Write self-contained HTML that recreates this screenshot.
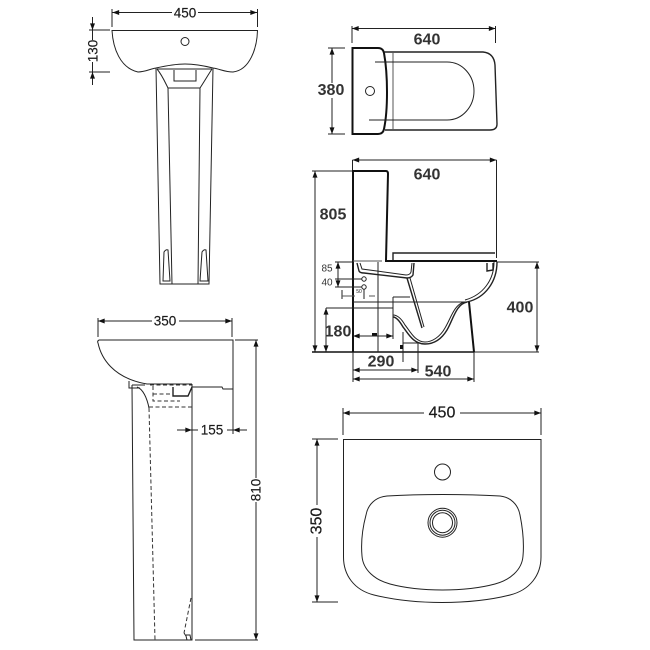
<!DOCTYPE html>
<html><head><meta charset="utf-8"><style>
html,body{margin:0;padding:0;background:#fff;width:650px;height:650px;overflow:hidden}
svg{display:block;filter:blur(.35px)}
text{font-family:"Liberation Sans",sans-serif;fill:#1a1a1a;text-anchor:middle;dominant-baseline:central}
.t{font-size:13.5px;stroke:#1a1a1a;stroke-width:.15px}
.l{font-size:16px;stroke:#1a1a1a;stroke-width:.2px}
.b{font-size:16px;font-weight:bold;fill:#333}
.s{font-size:10px;fill:#333}
path,line,circle{fill:none;stroke:#222;stroke-width:1}
.k{stroke:#111;stroke-width:2}
.m{stroke:#222;stroke-width:1.4}
.g{stroke:#555;stroke-width:1}
.d{stroke-dasharray:4 2.5;stroke:#333}
</style></head><body>
<svg width="650" height="650" viewBox="0 0 650 650" xmlns="http://www.w3.org/2000/svg">
<defs>
<marker id="e" viewBox="0 0 8 6" refX="8" refY="3" markerWidth="7" markerHeight="5" markerUnits="userSpaceOnUse" orient="auto"><path d="M0 0L8 3L0 6z" style="fill:#111;stroke:none"/></marker>
<marker id="st" viewBox="0 0 8 6" refX="0" refY="3" markerWidth="7" markerHeight="5" markerUnits="userSpaceOnUse" orient="auto"><path d="M8 0L0 3L8 6z" style="fill:#111;stroke:none"/></marker>
</defs>

<!-- Front pedestal basin -->
<path d="M112 9V27M257.5 9V27"/>
<path d="M112.5 12.5H172M198 12.5H257" marker-start="url(#st)" marker-end="url(#e)"/>
<text class="t" x="185" y="13">450</text>
<path d="M112 30.5H257.5C257 48 250 70 233 72C225 72 220 69 213 68C205 66 195 64 185 64C175 64 165 66 156 68C150 69 145 72 138 72C120 68 113 48 112 30.5Z"/>
<circle cx="185" cy="41.5" r="4"/>
<path d="M89 30H110M89 72H110"/>
<path d="M92.5 17V30" marker-end="url(#e)"/><path d="M92.5 85V72" marker-end="url(#e)"/>
<path d="M92.5 30V40M92.5 62V72"/>
<text class="t" x="93" y="51" transform="rotate(-90 93 51)">130</text>
<path d="M156 68L160 284H209L213 68"/>
<path d="M157 69H212"/>
<path d="M157 69C162 75 165 82 168 88H200C204 82 208 75 212 69"/>
<path d="M168 88L172 284M200 88L198 284"/>
<path d="M174 70V81H196V70"/>
<path d="M163 281L164 252Q166 249 168 250L170 281ZM200 281L202 252Q204 249 206 250L208 281Z"/>

<!-- Toilet plan -->
<path d="M352 26V43M495.5 26V43"/>
<path d="M352 28.5H495.5" marker-start="url(#st)" marker-end="url(#e)"/>
<text class="b" x="427" y="40">640</text>
<path class="k" d="M352.5 48H378Q383 48 384 53C388 75 388 110 384 129Q383 134 378 134H352.5Z"/>
<path class="m" d="M384 52H483Q494 53 495 65L497 124Q497 130 490 130H385"/>
<path class="g" d="M393 52V130"/>
<path d="M375 62H447C463 62 474 76 474 91C474 106 463 120 447 120H369"/>
<circle cx="370" cy="91" r="4.5"/>
<path d="M328 48H345M328 134H345"/>
<path d="M332 48V134" marker-start="url(#st)" marker-end="url(#e)"/>
<rect x="317" y="83" width="29" height="15" style="fill:#fff;stroke:none"/>
<text class="b" x="331" y="90.5">380</text>

<!-- Toilet side -->
<path d="M352.5 160V171M496.5 160V258"/>
<path d="M352.5 160H496.5" marker-start="url(#st)" marker-end="url(#e)"/>
<text class="b" x="427" y="175">640</text>
<path d="M312 171H352"/>
<path d="M315 171V352" marker-start="url(#st)" marker-end="url(#e)"/>
<text class="b" x="333" y="215">805</text>
<path class="k" d="M353 352V171H386Q388 171 388 174L386 260"/>
<path class="m" d="M393 260V253H495"/>
<path class="k" d="M385 261H497"/>
<path class="g" d="M353 261H382"/>
<path class="k" d="M312 352H474" style="stroke-width:1.6"/>
<path d="M474 352H539M497 262H539"/>
<path d="M537 262V352" marker-start="url(#st)" marker-end="url(#e)"/>
<text class="b" x="520" y="308">400</text>
<path class="m" d="M497 262C497 282 485 298 467 302"/>
<path d="M494 262C494 280 483 295 465 300"/>
<path class="m" d="M467 302C456 304 453 320 447 330C441 340 433 344 425 344C413 344 408 333 403 327C399 320 396 317 393 317"/>
<path d="M464 302C454 305 451 318 445 328C440 337 432 342 425 342C415 342 410 331 405 325C401 318 397 315 393 315"/>
<path class="k" d="M469 302L474 352"/>
<path d="M353 302H467"/>
<path d="M326 308H393M393 297V339M393 297H410"/>
<path d="M326 308V352" marker-start="url(#st)" marker-end="url(#e)"/>
<text class="b" x="338" y="332">180</text>
<path class="m" d="M407 278L422 328"/><path d="M410 278L424 327"/>
<path class="m" d="M357 263L359 271Q360 273 364 273L407 278Q411 278 413 275L414 263"/>
<path d="M360 263L362 269L406 275Q410 275 411 272L412 263"/>
<path class="m" d="M487 263V271L493 270V263"/>
<path d="M378 262V352"/>
<path d="M335 262H352"/>
<path d="M335 279H362M335 287H362"/>
<path d="M338 262V287" marker-start="url(#st)" marker-end="url(#e)"/>
<text class="s" x="327" y="269">85</text>
<text class="s" x="327" y="283">40</text>
<circle cx="364" cy="279" r="2.2"/><circle cx="364" cy="287" r="2.2"/>
<path d="M364 289V299M342 290V299"/>
<path class="g" d="M342 296H355M369 296H375"/>
<text x="359" y="292" style="font-size:5px">50</text>
<rect x="372" y="333" width="5" height="3" style="fill:#111;stroke:none"/>
<path d="M353 336H393" marker-start="url(#st)" marker-end="url(#e)"/>
<path d="M403 332V362"/>
<rect x="400" y="345" width="3" height="4" style="fill:#111;stroke:none"/>
<path d="M403 343H418M418 343V373"/>
<path d="M353 352V382M474 352V382"/>
<path d="M353 370H418" marker-start="url(#st)" marker-end="url(#e)"/>
<text class="b" x="381" y="362">290</text>
<path d="M353 379H474" marker-start="url(#st)" marker-end="url(#e)"/>
<text class="b" x="438" y="372">540</text>

<!-- Side pedestal -->
<path d="M98 318V337M232 318V337"/>
<path d="M98 321H152M179 321H232" marker-start="url(#st)" marker-end="url(#e)"/>
<text class="t" x="165" y="321">350</text>
<path d="M99 340H233V389H223L222 387L192 387"/>
<path d="M233 389V434"/>
<path d="M99 340Q97 341 98 343C101 357 112 378 147 384H192"/>
<path d="M132 385L134 640H192V384"/>
<path d="M129 381V388H140"/>
<path d="M132 385H145"/>
<path d="M137 387C143 389 147 398 149 408"/>
<path class="d" d="M149 408L155 640M149 407H192M153 386V401H180M153 394H173M191 598L184 633"/>
<path class="m" d="M173 387V396H188L192 387"/>
<path class="d" d="M150 385H192"/>
<path d="M184 633L186 636L187 640M186 635H190L191 640"/>
<path d="M177 430H192" marker-end="url(#e)"/>
<path d="M247 430H233" marker-end="url(#e)"/>
<path d="M192 430H198M227 430H233"/>
<text class="t" x="212" y="430">155</text>
<path d="M235 340H258M195 640H258"/>
<path d="M256 340V478" marker-start="url(#st)"/>
<path d="M256 502V640" marker-end="url(#e)"/>
<text class="t" x="256" y="490" transform="rotate(-90 256 490)">810</text>

<!-- Basin plan -->
<path d="M343 408V435M541 408V435"/>
<path d="M343 413H424M460 413H541" marker-start="url(#st)" marker-end="url(#e)"/>
<text class="l" x="442" y="413">450</text>
<path d="M343.5 439.5H541V557C541 575 530 590 510 595C490 600 465 602.5 442 602.5C419 602.5 394 600 374 595C354 590 343.5 575 343.5 557Z"/>
<path d="M387 496C420 494 465 494 500 496C510 497 518 504 520 515C523 530 524 545 523 556C522 570 510 580 495 584C465 592 420 592 390 584C375 580 363 570 362 556C361 545 362 530 366 515C368 504 376 497 387 496Z"/>
<circle cx="442.5" cy="472" r="8"/>
<circle cx="442.5" cy="522.7" r="14.5"/><circle cx="442.5" cy="522.7" r="12.5"/><circle cx="442.5" cy="522.7" r="10"/>
<path d="M312 439H338M312 602H338"/>
<path d="M317 439V505" marker-start="url(#st)"/>
<path d="M317 537V602" marker-end="url(#e)"/>
<text class="l" x="317" y="521" transform="rotate(-90 317 521)">350</text>
</svg>
</body></html>
